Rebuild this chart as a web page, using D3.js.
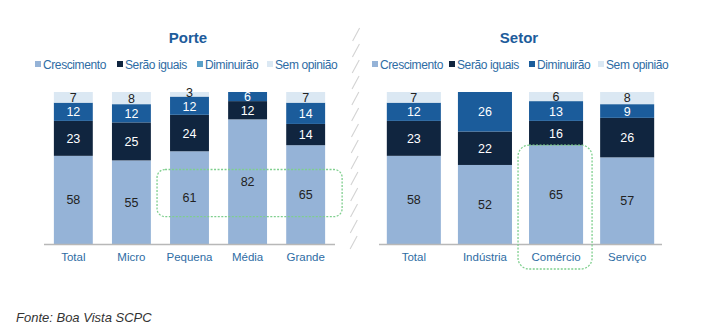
<!DOCTYPE html>
<html>
<head>
<meta charset="utf-8">
<script src="https://cdn.jsdelivr.net/npm/d3@7"></script>
<style>
  html, body { margin: 0; padding: 0; background: #fff; }
  svg { display: block; font-family: "Liberation Sans", Arial, sans-serif; }
</style>
</head>
<body>
<svg id="chart" width="711" height="336"></svg>
<script>
// series, bottom to top
const seriesNames = ['Crescimento', 'Serão iguais', 'Diminuirão', 'Sem opinião'];
const seriesColors = ['#95b3d7', '#10253f', '#1b5c9b', '#dbe8f3'];
const labelColors = ['#222', '#fff', '#fff', '#222'];

const porteCats = ['Total', 'Micro', 'Pequena', 'Média', 'Grande'];
const porteCrescimento = [58, 55, 61, 82, 65];
const porteIguais = [23, 25, 24, 12, 14];
const porteDiminuirao = [12, 12, 12, 6, 14];
const porteSemOpiniao = [7, 8, 3, 0, 7];

const setorCats = ['Total', 'Indústria', 'Comércio', 'Serviço'];
const setorCrescimento = [58, 52, 65, 57];
const setorIguais = [23, 22, 16, 26];
const setorDiminuirao = [12, 26, 13, 9];
const setorSemOpiniao = [7, 0, 6, 8];

const svg = d3.select('#chart');
const y = d3.scaleLinear().domain([0, 100]).range([244, 92]);

function rows(cats, a, b, c, d) {
    return cats.map((cat, i) => ({ cat, v: [a[i], b[i], c[i], d[i]] }));
}

function drawPanel(opt) {
    const g = svg.append('g');
    const x = d3.scaleBand()
        .domain(opt.cats)
        .range(opt.range)
        .paddingInner(opt.padIn)
        .paddingOuter(opt.padOut);

    // title
    g.append('text')
        .attr('x', opt.titleX).attr('y', 43)
        .attr('text-anchor', 'middle')
        .attr('font-size', 15).attr('font-weight', 'bold')
        .attr('fill', '#1d5c9b')
        .text(opt.title);

    // legend
    const leg = g.selectAll('.leg')
        .data(seriesNames)
        .enter().append('g')
        .attr('transform', (d, i) => `translate(${opt.legendX[i]},65)`);
    leg.append('rect')
        .attr('x', 0).attr('y', -4)
        .attr('width', 6).attr('height', 6)
        .attr('fill', (d, i) => opt.swatch[i]);
    leg.append('text')
        .attr('x', 8).attr('y', 4)
        .attr('font-size', 12)
        .attr('letter-spacing', -0.4)
        .attr('fill', '#2e6ca4')
        .text(d => d);

    const data = rows(opt.cats, ...opt.values);
    data.forEach(row => {
        let base = 0;
        const labels = [];
        row.v.forEach((val, k) => {
            if (!val) return;
            const y0 = base, y1 = base + val;
            base = y1;
            g.append('rect')
                .attr('x', x(row.cat))
                .attr('y', y(y1))
                .attr('width', x.bandwidth())
                .attr('height', y(y0) - y(y1))
                .attr('fill', seriesColors[k]);
            labels.push({ val, k, cy: (y(y0) + y(y1)) / 2 });
        });
        // keep thin-segment labels from running into each other
        const minGap = 14.3;
        for (let i = labels.length - 2; i >= 0; i--) {
            const gap = labels[i].cy - labels[i + 1].cy;
            if (gap < minGap) {
                labels[i + 1].cy -= (minGap - gap) * 0.7;
                labels[i].cy += (minGap - gap) * 0.3;
            }
        }
        labels.forEach(l => {
            g.append('text')
                .attr('x', x(row.cat) + x.bandwidth() / 2)
                .attr('y', l.cy)
                .attr('dy', '0.36em')
                .attr('text-anchor', 'middle')
                .attr('font-size', 12.5)
                .attr('fill', labelColors[l.k])
                .text(l.val);
        });
    });

    // baseline + category labels
    g.append('line')
        .attr('x1', opt.range[0]).attr('x2', opt.range[1])
        .attr('y1', y(0) + 0.5).attr('y2', y(0) + 0.5)
        .attr('stroke', '#b8b8b8').attr('stroke-width', 1.5);
    g.selectAll('.cat')
        .data(opt.cats)
        .enter().append('text')
        .attr('x', d => x(d) + x.bandwidth() / 2)
        .attr('y', 261)
        .attr('text-anchor', 'middle')
        .attr('font-size', 11.5)
        .attr('fill', '#2e6ca4')
        .text(d => d);

    return x;
}

const xPorte = drawPanel({
    title: 'Porte', titleX: 188,
    cats: porteCats,
    values: [porteCrescimento, porteIguais, porteDiminuirao, porteSemOpiniao],
    range: [44, 335], padIn: 0.33, padOut: 0.17,
    legendX: [35, 117, 197, 267],
    swatch: ['#95b3d7', '#10253f', '#5aa0c8', '#dbe8f3']
});

const xSetor = drawPanel({
    title: 'Setor', titleX: 519,
    cats: setorCats,
    values: [setorCrescimento, setorIguais, setorDiminuirao, setorSemOpiniao],
    range: [379, 662], padIn: 0.24, padOut: 0.11,
    legendX: [372, 449, 529, 598],
    swatch: ['#95b3d7', '#10253f', '#1b5c9b', '#dbe8f3']
});

// dotted highlight boxes
const hl = svg.append('g')
    .attr('fill', 'none')
    .attr('stroke', '#7fcf8e')
    .attr('stroke-width', 1.3)
    .attr('stroke-dasharray', '2,1.5');
hl.append('rect')
    .attr('x', xPorte('Pequena') - 13)
    .attr('y', y(49))
    .attr('width', xPorte('Grande') + xPorte.bandwidth() + 17 - (xPorte('Pequena') - 13))
    .attr('height', y(18) - y(49))
    .attr('rx', 8);
hl.append('rect')
    .attr('x', xSetor('Comércio') - 11)
    .attr('y', y(65))
    .attr('width', xSetor.bandwidth() + 20)
    .attr('height', 269 - y(65))
    .attr('rx', 11);

// slanted divider between the two panels
const divider = d3.range(28, 246, 16);
svg.append('g')
    .attr('stroke', '#d3d3d3').attr('stroke-width', 1.1)
    .selectAll('line')
    .data(divider)
    .enter().append('line')
    .attr('x1', d => 350 + (246 - d) * 0.012)
    .attr('y1', d => d + 13)
    .attr('x2', d => 357 + (246 - d) * 0.012)
    .attr('y2', d => d);

svg.append('text')
    .attr('x', 16).attr('y', 322)
    .attr('font-size', 13)
    .attr('font-style', 'italic')
    .attr('fill', '#333')
    .text('Fonte: Boa Vista SCPC');
</script>
</body>
</html>
